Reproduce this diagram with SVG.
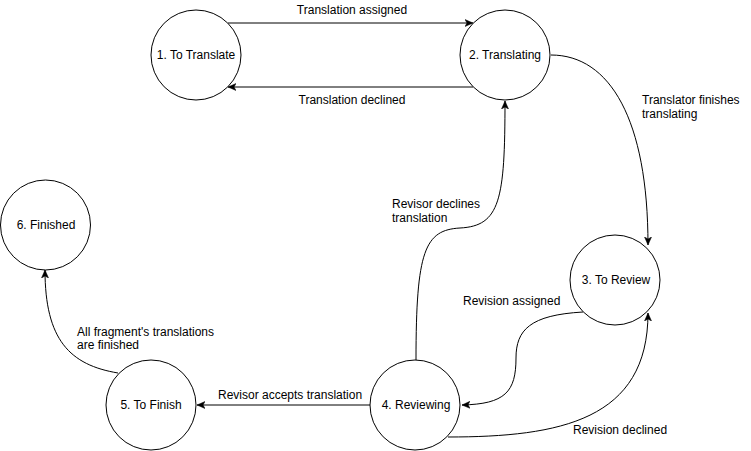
<svg xmlns="http://www.w3.org/2000/svg" width="751" height="451" viewBox="0 0 751 451">
<style>
.node circle{fill:#ffffff;stroke:#000000;stroke-width:1}
text{font-family:"Liberation Sans",Arial,Helvetica,sans-serif;font-size:12px;fill:#000000}
.c{text-anchor:middle}
.edge{fill:none;stroke:#000000;stroke-width:1}
</style>
<defs>
<marker id="arr" markerUnits="userSpaceOnUse" viewBox="0 0 8 8" markerWidth="8" markerHeight="8" refX="8" refY="4" orient="auto">
<path d="M0,0.5 L8,4 L0,7.5 L2,4 Z" fill="#000000" stroke="#000000" stroke-width="0.5"/>
</marker>
</defs>
<rect width="751" height="451" fill="#ffffff"/>
<g id="connectors">
<path class="edge" d="M228,23 L473,23" marker-end="url(#arr)"/>
<path class="edge" d="M473,87 L228,87" marker-end="url(#arr)"/>
<path class="edge" d="M551,55 C610,55 648,120 648,245" marker-end="url(#arr)"/>
<path class="edge" d="M416,360 C416,250 425,230 460,228 C500,226 505,200 505,101" marker-end="url(#arr)"/>
<path class="edge" d="M583,312 C530,315 516,330 516,358 C516,392 505,404 462,405" marker-end="url(#arr)"/>
<path class="edge" d="M448,437 C560,437 648,420 648,313" marker-end="url(#arr)"/>
<path class="edge" d="M370,405 L197,405" marker-end="url(#arr)"/>
<path class="edge" d="M118,373 C70,365 45,340 45,270" marker-end="url(#arr)"/>
</g>
<g id="edge-labels">
<text class="c" x="352" y="14">Translation assigned</text>
<text class="c" x="352" y="104">Translation declined</text>
<text x="642" y="104">Translator finishes</text>
<text x="642" y="118">translating</text>
<text x="392" y="208">Revisor declines</text>
<text x="392" y="222">translation</text>
<text x="463" y="305">Revision assigned</text>
<text x="573" y="434">Revision declined</text>
<text x="218" y="399">Revisor accepts translation</text>
<text x="77" y="336">All fragment's translations</text>
<text x="77" y="349">are finished</text>
</g>
<g id="node1" class="node"><circle cx="196" cy="55" r="45"/><text class="c" x="196" y="59">1. To Translate</text></g>
<g id="node2" class="node"><circle cx="505" cy="55" r="45"/><text class="c" x="505" y="59">2. Translating</text></g>
<g id="node3" class="node"><circle cx="615" cy="280" r="45"/><text class="c" x="616" y="284">3. To Review</text></g>
<g id="node4" class="node"><circle cx="415" cy="405" r="45"/><text class="c" x="416" y="409">4. Reviewing</text></g>
<g id="node5" class="node"><circle cx="151" cy="405" r="45"/><text class="c" x="151" y="409">5. To Finish</text></g>
<g id="node6" class="node"><circle cx="45.5" cy="225" r="45"/><text class="c" x="46" y="229">6. Finished</text></g>
</svg>
